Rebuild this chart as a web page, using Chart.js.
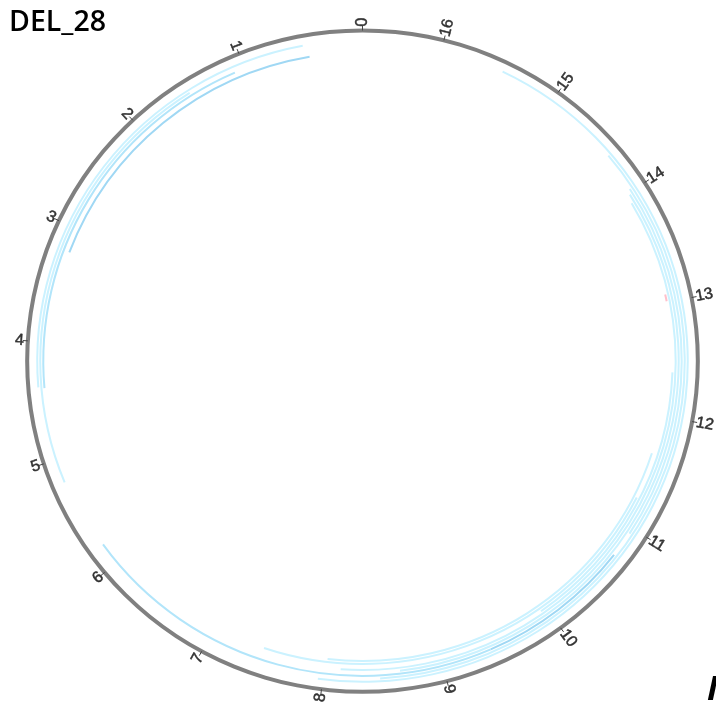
<!DOCTYPE html>
<html>
<head>
<meta charset="utf-8">
<title>DEL_28</title>
<script src="https://cdn.jsdelivr.net/npm/chart.js@4.4.1/dist/chart.umd.min.js"></script>
<style>
    html, body { margin: 0; padding: 0; background: #fff; }
    #wrap { width: 716px; height: 706px; position: relative; overflow: hidden; }
</style>
</head>
<body>
<div id="wrap"><canvas id="chart" width="716" height="706"></canvas></div>
<script>
// Circular genome plot (kb), deletions drawn as arcs on stacked levels

const axisLength = 16.65;
const tickValues = [0, 1, 2, 3, 4, 5, 6, 7, 8, 9, 10, 11, 12, 13, 14, 15, 16];
const tickLabels = ['0', '1', '2', '3', '4', '5', '6', '7', '8', '9', '10', '11', '12', '13', '14', '15', '16'];

// one entry per deletion arc
const delStart = [0.45, 0.49, 1.09, 1.50, 5.81, 9.42, 7.46, 8.02, 7.96, 8.47, 8.64, 8.14, 10.95, 9.95, 13.01];
const delEnd   = [3.21, 4.38, 4.39, 5.20, 9.42, 10.73, 11.25, 11.66, 15.47, 14.35, 13.98, 13.91, 14.02, 12.39, 13.07];
const delLevel = [4, 0, 2, 1, 2, 2, 6, 7, 0, 1, 3, 4, 2, 5, 5];
const delTone  = ['dark', 'light', 'medium', 'light', 'medium', 'dark', 'light', 'light', 'light', 'light', 'light', 'light', 'light', 'light', 'pink'];

const toneColors = { light: '#cbf2ff', medium: '#b2e5fa', dark: '#a0d8f4', pink: '#ffc0cb' };
const clear = 'rgba(0,0,0,0)';

// the original plot is a touch wider than tall
const stretchX = 1.007, stretchY = 0.993;

// Build the rings: outline, gap, then one ring per level with thin spacers
function buildDatasets() {
    const sets = [];
    sets.push({ data: [axisLength], backgroundColor: ['#808080'], weight: 4 });
    sets.push({ data: [axisLength], backgroundColor: [clear], weight: 7 });
    const levels = Math.max(...delLevel) + 1;
    for (let lvl = 0; lvl < levels; lvl++) {
        if (lvl > 0) sets.push({ data: [axisLength], backgroundColor: [clear], weight: 1 });
        // doughnut runs clockwise from the top, positions run counter-clockwise
        const idx = delLevel.map((l, i) => i).filter(i => delLevel[i] === lvl)
            .sort((a, b) => delEnd[b] - delEnd[a]);
        const data = [], colors = [];
        let cursor = axisLength;
        idx.forEach(i => {
            data.push(cursor - delEnd[i]); colors.push(clear);
            data.push(delEnd[i] - delStart[i]); colors.push(toneColors[delTone[i]]);
            cursor = delStart[i];
        });
        data.push(cursor); colors.push(clear);
        sets.push({ data: data, backgroundColor: colors, weight: 2 });
    }
    return sets;
}

// Stretch the rings slightly, then add tick marks and rotated labels
const circleTicks = {
    id: 'circleTicks',
    beforeDatasetsDraw(chart) {
        const ring = chart.getDatasetMeta(0).data[0];
        const ctx = chart.ctx;
        ctx.save();
        ctx.translate(ring.x, ring.y);
        ctx.scale(stretchX, stretchY);
        ctx.translate(-ring.x, -ring.y);
    },
    afterDatasetsDraw(chart) {
        const ctx = chart.ctx;
        ctx.restore();
        const ring = chart.getDatasetMeta(0).data[0];
        const cx = ring.x, cy = ring.y, R = ring.outerRadius;
        const px = (r, a) => cx + r * stretchX * Math.cos(a);
        const py = (r, a) => cy + r * stretchY * Math.sin(a);
        ctx.save();
        ctx.font = '16px "Liberation Sans", Arial, sans-serif';
        ctx.textBaseline = 'middle';
        tickValues.forEach((v, i) => {
            let cw = 360 - v / axisLength * 360;
            if (cw >= 360) cw -= 360;
            const a = (cw - 90) * Math.PI / 180;
            ctx.strokeStyle = '#444';
            ctx.lineWidth = 1;
            ctx.beginPath();
            ctx.moveTo(px(R - 2, a), py(R - 2, a));
            ctx.lineTo(px(R + 3, a), py(R + 3, a));
            ctx.stroke();
            ctx.save();
            ctx.translate(px(R + 2, a), py(R + 2, a));
            if (cw < 180) {
                ctx.rotate(a);
                ctx.textAlign = 'left';
            } else {
                ctx.rotate(a - Math.PI);
                ctx.textAlign = 'right';
            }
            ctx.fillStyle = '#333';
            ctx.fillText(tickLabels[i], 0, 0);
            ctx.lineWidth = 0.5;
            ctx.strokeStyle = '#333';
            ctx.strokeText(tickLabels[i], 0, 0);
            ctx.restore();
        });
        // clipped legend text at the bottom right corner
        ctx.fillStyle = '#000';
        ctx.font = 'italic bold 34px "Open Sans", sans-serif';
        ctx.textAlign = 'left';
        ctx.textBaseline = 'alphabetic';
        ctx.fillText('I', 707, 700);
        ctx.restore();
    }
};

new Chart(document.getElementById('chart'), {
    type: 'doughnut',
    data: { labels: [], datasets: buildDatasets() },
    options: {
        responsive: false,
        animation: false,
        events: [],
        radius: 335,
        cutout: (301 / 335 * 100) + '%',
        rotation: 0,
        borderWidth: 0,
        layout: { padding: { left: 9, right: -3, bottom: 24 } },
        plugins: {
            legend: { display: false },
            tooltip: { enabled: false },
            title: {
                display: true,
                text: 'DEL_28',
                align: 'start',
                color: '#000',
                font: { family: 'Open Sans', size: 28.5, weight: '600' },
                padding: { top: 6, bottom: 0 }
            }
        }
    },
    plugins: [circleTicks]
});
</script>
</body>
</html>
